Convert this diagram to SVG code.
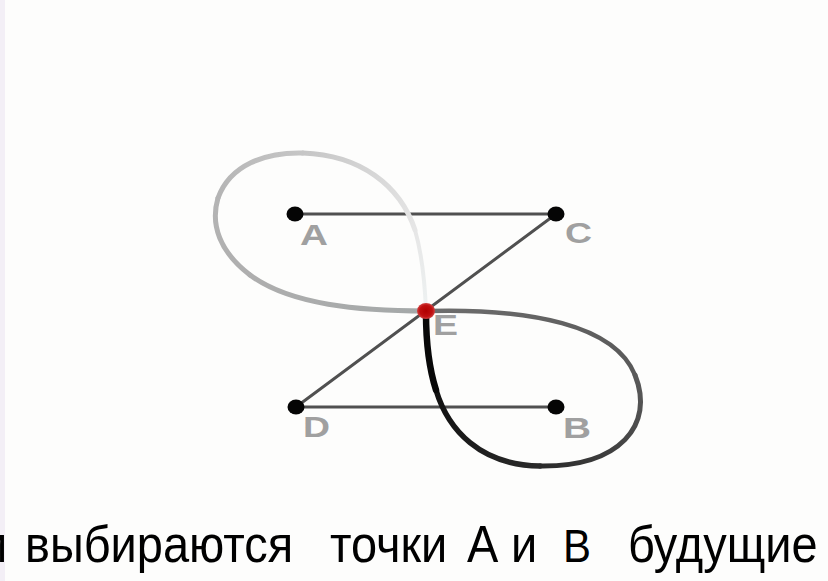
<svg xmlns="http://www.w3.org/2000/svg" width="828" height="581" viewBox="0 0 828 581">
  <defs>
    <style>
      .seg { stroke: #505050; stroke-width: 3; fill: none; stroke-linecap: round; }
      .curve { fill: none; stroke-linecap: round; }
      .dot { fill: #050505; }
      .lbl { font-family: "Liberation Sans", Arial, sans-serif; font-weight: bold; font-size: 29px; fill: #a0a0a0; }
      .caption { font-family: "Liberation Sans", Arial, sans-serif; font-size: 47px; fill: #000; }
    </style>
    <linearGradient id="l1" gradientUnits="userSpaceOnUse" x1="426" y1="311" x2="250" y2="275"><stop offset="0" stop-color="#a4a8a8"/><stop offset="1" stop-color="#aeaeae"/></linearGradient>
    <linearGradient id="l2" gradientUnits="userSpaceOnUse" x1="250" y1="275" x2="218" y2="198"><stop offset="0" stop-color="#aeaeae"/><stop offset="1" stop-color="#b4b4b4"/></linearGradient>
    <linearGradient id="l3" gradientUnits="userSpaceOnUse" x1="218" y1="198" x2="303" y2="153"><stop offset="0" stop-color="#b4b4b4"/><stop offset="1" stop-color="#c6c6c6"/></linearGradient>
    <linearGradient id="l4" gradientUnits="userSpaceOnUse" x1="303" y1="153" x2="415" y2="230"><stop offset="0" stop-color="#c6c6c6"/><stop offset="1" stop-color="#e6e6e6"/></linearGradient>
    <linearGradient id="l5" gradientUnits="userSpaceOnUse" x1="415" y1="230" x2="426" y2="311"><stop offset="0" stop-color="#e6e6e6"/><stop offset="1" stop-color="#eef2f2"/></linearGradient>
    <linearGradient id="d1" gradientUnits="userSpaceOnUse" x1="426" y1="311" x2="635" y2="375"><stop offset="0" stop-color="#6e6e6e"/><stop offset="1" stop-color="#595959"/></linearGradient>
    <linearGradient id="d2" gradientUnits="userSpaceOnUse" x1="635" y1="375" x2="540" y2="466"><stop offset="0" stop-color="#595959"/><stop offset="1" stop-color="#2a2a2a"/></linearGradient>
    <linearGradient id="d3" gradientUnits="userSpaceOnUse" x1="540" y1="466" x2="436" y2="390"><stop offset="0" stop-color="#2a2a2a"/><stop offset="1" stop-color="#111"/></linearGradient>
    <radialGradient id="red" cx="0.5" cy="0.5" r="0.5"><stop offset="0" stop-color="#b00000"/><stop offset="0.7" stop-color="#c01010"/><stop offset="1" stop-color="#d04040"/></radialGradient>
  </defs>

  <rect x="0" y="0" width="828" height="581" fill="#fdfdfc"/>
  <rect x="0" y="0" width="5" height="581" fill="#f3eff6"/>

  <g id="connectors">
    <line class="seg" x1="295" y1="214" x2="556" y2="214"/>
    <line class="seg" x1="296" y1="407" x2="556" y2="407"/>
    <line class="seg" x1="556" y1="214" x2="296" y2="407"/>
    <g id="light-loop" stroke-width="5">
      <path class="curve" stroke="url(#l1)" d="M426,311 C360,311 290,305 250,275"/>
      <path class="curve" stroke="url(#l2)" d="M250,275 C220,252 210,225 218,198"/>
      <path class="curve" stroke="url(#l3)" d="M218,198 C230,165 265,152 303,153"/>
      <path class="curve" stroke="url(#l4)" d="M303,153 C360,155 400,185 415,230"/>
      <path class="curve" stroke="url(#l5)" stroke-width="4" d="M415,230 C423,258 425,285 426,311"/>
    </g>
  </g>

  <g id="node-E">
    <text class="lbl" x="433" y="335" textLength="25" lengthAdjust="spacingAndGlyphs">E</text>
  </g>

  <g id="dark-loop">
    <path class="curve" stroke="url(#d1)" stroke-width="4.5" d="M426,311 C530,308 615,325 635,375"/>
    <path class="curve" stroke="url(#d2)" stroke-width="5" d="M635,375 C655,425 620,467 540,466"/>
    <path class="curve" stroke="url(#d3)" stroke-width="5.5" d="M540,466 C480,465 448,430 436,390"/>
    <path class="curve" stroke="#080808" stroke-width="6.5" d="M436,390 C428,365 426,340 426,313"/>
  </g>

  <g id="node-A">
    <ellipse class="dot" cx="295" cy="214" rx="8.5" ry="7.5"/>
    <text class="lbl" x="300" y="245" textLength="28" lengthAdjust="spacingAndGlyphs">A</text>
  </g>
  <g id="node-C">
    <ellipse class="dot" cx="556" cy="214" rx="8.5" ry="7.5"/>
    <text class="lbl" x="565" y="243" textLength="27" lengthAdjust="spacingAndGlyphs">C</text>
  </g>
  <g id="node-D">
    <ellipse class="dot" cx="296" cy="407" rx="8.5" ry="7.5"/>
    <text class="lbl" x="303" y="437" textLength="27" lengthAdjust="spacingAndGlyphs">D</text>
  </g>
  <g id="node-B">
    <ellipse class="dot" cx="556" cy="407" rx="8.5" ry="7.5"/>
    <text class="lbl" x="563" y="438" textLength="28" lengthAdjust="spacingAndGlyphs">B</text>
  </g>
  <g id="node-E-dot">
    <ellipse cx="426" cy="311" rx="9" ry="8" fill="url(#red)"/>
  </g>

  <g id="caption" transform="translate(0,562) scale(1,1.12) translate(0,-562)">
    <text class="caption" y="562">
      <tspan x="-19">и</tspan>
      <tspan x="25">выбираются</tspan>
      <tspan x="330">точки</tspan>
      <tspan x="467">А</tspan>
      <tspan x="511">и</tspan>
      <tspan x="563" font-size="42">B</tspan>
      <tspan x="628">будущие</tspan>
    </text>
  </g>
</svg>
